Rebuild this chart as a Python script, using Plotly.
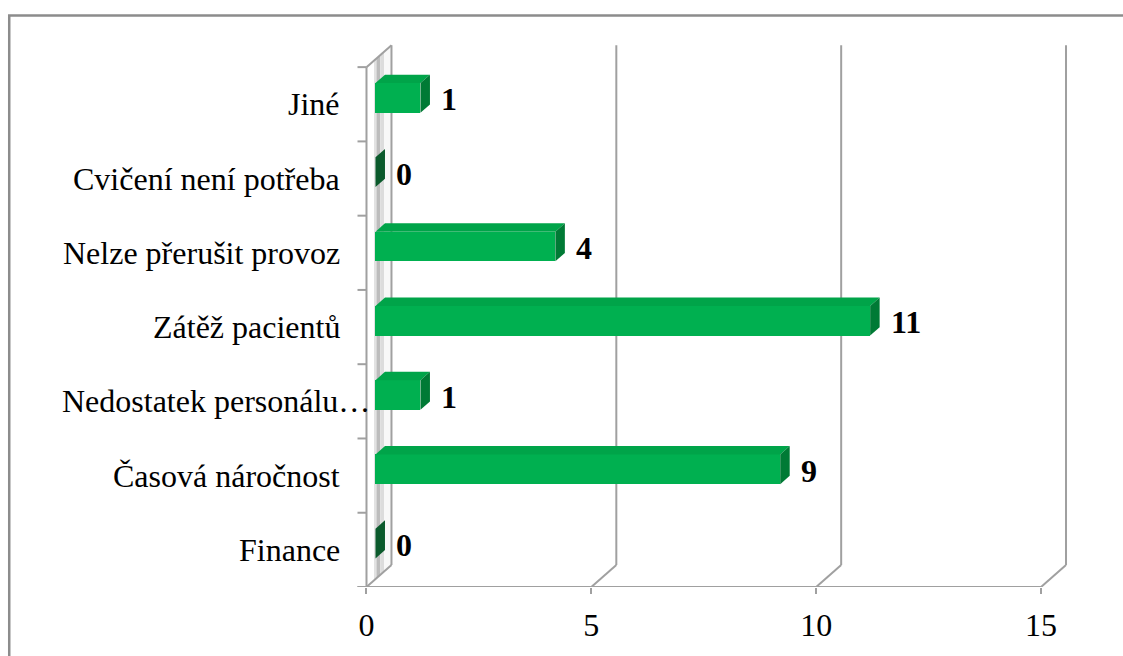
import plotly.graph_objects as go

# ---- data ----
categories = ["Finance", "Časová náročnost", "Nedostatek personálu…", "Zátěž pacientů",
              "Nelze přerušit provoz", "Cvičení není potřeba", "Jiné"]
values = [0, 9, 1, 11, 4, 0, 1]
x_ticks = [0, 5, 10, 15]

# ---- geometry / style ----
W, H = 1123, 656
ML, MR, MT, MB = 352.5, 37, 30, 69
XR = [-0.3, 16.0]
YR = [-0.5, 7.0]
pxx = (W - ML - MR) / (XR[1] - XR[0])
pxy = (H - MT - MB) / (YR[1] - YR[0])
DX = 25 / pxx          # wall depth in x units
DY = 22 / pxy          # wall depth in y units
BX0 = 9 / pxx          # bar front-face offset
BY0 = 0.085
BD = 0.38              # bar depth fraction of wall depth
BH = 0.2               # bar half height
GRID = "#A0A0A0"
FRONT = "#00B050"
TOP = "#00A449"
SIDE = "#007A35"
SIDE0 = "#0B5A2C"
FONT = "Liberation Serif, Times New Roman, serif"
FS = 32
n = len(categories)
ylo, yhi = -0.5, n - 0.5

def px2paper_x(p):
    return (p - ML) / (W - ML - MR)

def px2paper_y(p):
    return (H - MB - p) / (H - MT - MB)

shapes = []

def line(x0, y0, x1, y1, w=2, c=GRID):
    shapes.append(dict(type="line", x0=x0, y0=y0, x1=x1, y1=y1, xref="x", yref="y",
                       line=dict(color=c, width=w), layer="below"))

def poly(pts, fill, lw=0, lc=None, layer="below"):
    d = "M " + " L ".join(f"{a},{b}" for a, b in pts) + " Z"
    shapes.append(dict(type="path", path=d, xref="x", yref="y", fillcolor=fill,
                       line=dict(color=lc or fill, width=lw), layer=layer))

# outer chart border
shapes.append(dict(type="rect", xref="paper", yref="paper",
                   x0=px2paper_x(8.5), x1=px2paper_x(1140), y0=px2paper_y(15.5), y1=px2paper_y(700),
                   line=dict(color="#8C8C8C", width=2.5), fillcolor="rgba(0,0,0,0)"))

# left wall shading strips
strips = [(0.0, 0.3, "#FFFFFF"), (0.3, 0.4, "#E2E2E2"), (0.4, 0.55, "#BCBCBC"),
          (0.55, 0.7, "#DCDCDC"), (0.7, 1.0, "#F8F8F8")]
for f0, f1, col in strips:
    poly([(f0 * DX, ylo + f0 * DY), (f1 * DX, ylo + f1 * DY),
          (f1 * DX, yhi + f1 * DY), (f0 * DX, yhi + f0 * DY)], col)

# wall edges
line(0, ylo, 0, yhi)
line(0, yhi, DX, yhi + DY)
line(DX, ylo + DY, DX, yhi + DY)
# back-wall gridlines + floor slants
for t in x_ticks:
    line(t, ylo, t + DX, ylo + DY)
    if t > 0:
        line(t + DX, ylo + DY, t + DX, yhi + DY)
line(-0.2, ylo, x_ticks[-1], ylo)
# category ticks
for k in range(n + 1):
    line(-0.2, ylo + k, 0, ylo + k)

# 3D bar top/side faces
bx = BX0
for i, v in enumerate(values):
    yc = i + BY0
    dx, dy = BD * DX, BD * DY
    if v > 0:
        poly([(bx, yc + BH), (bx + v, yc + BH), (bx + v + dx, yc + BH + dy), (bx + dx, yc + BH + dy)],
             TOP, layer="above")
    poly([(bx + v, yc - BH), (bx + v, yc + BH), (bx + v + dx, yc + BH + dy), (bx + v + dx, yc - BH + dy)],
         SIDE if v > 0 else SIDE0, layer="above")

fig = go.Figure()
fig.add_trace(go.Bar(
    y=[i + BY0 for i in range(n)], x=values, base=[bx] * n, orientation="h",
    width=2 * BH, marker=dict(color=FRONT, line=dict(width=0)), hoverinfo="skip",
    showlegend=False))

annotations = []
for i, v in enumerate(values):
    annotations.append(dict(x=bx + v + BD * DX + 0.2, y=i + BY0 - 0.02, xref="x", yref="y",
                            text=f"<b>{v}</b>", showarrow=False, xanchor="left", yanchor="middle",
                            font=dict(family=FONT, size=FS, color="black")))
label_right_px = [341] * n
label_right_px[2] = 372
for i, c in enumerate(categories):
    annotations.append(dict(x=px2paper_x(label_right_px[i]), y=i, xref="paper", yref="y", text=c,
                            showarrow=False, xanchor="right", yanchor="middle",
                            font=dict(family=FONT, size=FS, color="black")))

fig.update_layout(
    width=W, height=H, margin=dict(l=ML, r=MR, t=MT, b=MB),
    paper_bgcolor="white", plot_bgcolor="white",
    shapes=shapes, annotations=annotations, bargap=0,
    xaxis=dict(range=XR, tickvals=x_ticks, ticktext=[str(t) for t in x_ticks],
               showgrid=False, zeroline=False, showline=False,
               ticks="outside", ticklen=6, tickwidth=2, tickcolor=GRID,
               ticklabelstandoff=4,
               tickfont=dict(family=FONT, size=FS, color="black")),
    yaxis=dict(range=YR, showgrid=False, zeroline=False, showline=False,
               showticklabels=False, ticks=""),
)
fig.write_html("out.html")
